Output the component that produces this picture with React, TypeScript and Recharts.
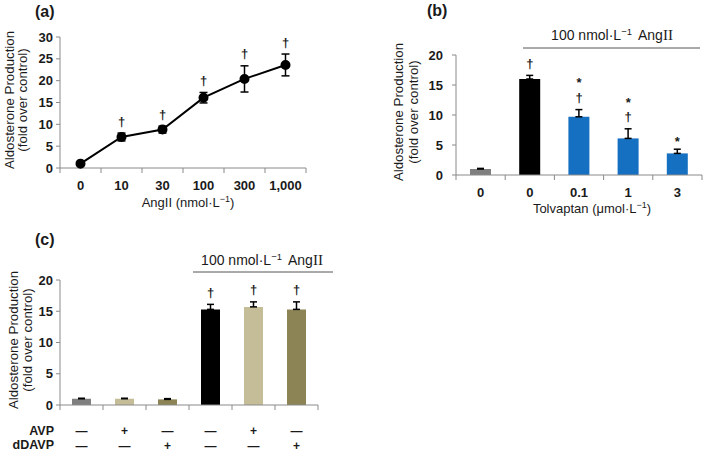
import React from 'react';
import { ComposedChart, Line, Bar, Cell, XAxis, YAxis, ErrorBar } from 'recharts';

const AXIS = '#8a8a8a';
const TEXT = '#1a1a1a';
const FONT = '"Liberation Sans", Arial, Helvetica, sans-serif';

// ---------- Panel (a) ----------
const aCats = ['0', '10', '30', '100', '300', '1,000'];
const aValues = [1.0, 7.1, 8.8, 16.1, 20.4, 23.6];
const aErrors = [0.2, 0.9, 0.8, 1.2, 3.0, 2.5];
const aMarks: string[][] = [[], ['†'], ['†'], ['†'], ['†'], ['†']];
const aYTicks = [0, 5, 10, 15, 20, 25, 30];

// ---------- Panel (b) ----------
const bKeys = ['Control', 'AngII', 'AngII+Tol0.1', 'AngII+Tol1', 'AngII+Tol3'];
const bCats = ['0', '0', '0.1', '1', '3'];
const bValues = [1.0, 16.0, 9.7, 6.1, 3.6];
const bErrors = [0.1, 0.6, 1.2, 1.6, 0.7];
const bMarks: string[][] = [[], ['†'], ['†', '*'], ['†', '*'], ['*']];
const bColors = ['#7f7f7f', '#000000', '#1570c2', '#1570c2', '#1570c2'];
const bYTicks = [0, 5, 10, 15, 20];

// ---------- Panel (c) ----------
const cKeys = ['Control', 'AVP', 'dDAVP', 'AngII', 'AngII+AVP', 'AngII+dDAVP'];
const cValues = [1.0, 1.0, 0.9, 15.3, 15.7, 15.3];
const cErrors = [0.08, 0.08, 0.12, 0.8, 0.8, 1.2];
const cMarks: string[][] = [[], [], [], ['†'], ['†'], ['†']];
const cColors = ['#7f7f7f', '#c4bd97', '#8c8454', '#000000', '#c4bd97', '#8c8454'];
const cRowNames = ['AVP', 'dDAVP'];
const cAvpRow = ['—', '+', '—', '—', '+', '—'];
const cDdavpRow = ['—', '—', '+', '—', '—', '+'];
const cYTicks = [0, 5, 10, 15, 20];

const aData = aCats.map((c, i) => ({
  x: i + 0.5,
  cat: c,
  value: aValues[i],
  err: aErrors[i],
  annoAt: aValues[i] + aErrors[i],
  marks: aMarks[i],
}));

const bData = bKeys.map((k, i) => ({
  key: k,
  value: bValues[i],
  errRange: [0, bErrors[i]],
  annoAt: bValues[i] + bErrors[i],
  marks: bMarks[i],
}));

const cData = cKeys.map((k, i) => ({
  key: k,
  value: cValues[i],
  errRange: [0, cErrors[i]],
  annoAt: cValues[i] + cErrors[i],
  marks: cMarks[i],
}));

type TickOpts = {
  n: number;
  labels?: string[];
  rows?: string[][];
  rowNames?: string[];
  fallbackWidth: number;
};

function makeXTick(opts: TickOpts) {
  return function XTick(props: any) {
    const { x, y, index } = props;
    const w = typeof props.width === 'number' && props.width > 0 ? props.width : opts.fallbackWidth;
    const band = w / opts.n;
    const left = x - band / 2;
    const right = x + band / 2;
    return (
      <g>
        <line x1={left} x2={left} y1={y} y2={y + 5} stroke={AXIS} strokeWidth={1} />
        {index === opts.n - 1 && <line x1={right} x2={right} y1={y} y2={y + 5} stroke={AXIS} strokeWidth={1} />}
        {opts.labels && (
          <text x={x} y={y + 21.5} textAnchor="middle" fontSize={13} fontWeight="bold" fill={TEXT}>
            {opts.labels[index]}
          </text>
        )}
        {opts.rows &&
          opts.rows.map((row, r) => (
            <text key={r} x={x} y={y + 29.5 + r * 15} textAnchor="middle" fontSize={12} fontWeight="bold" fill={TEXT}>
              {row[index]}
            </text>
          ))}
        {opts.rowNames &&
          index === 0 &&
          opts.rowNames.map((nm, r) => (
            <text key={'n' + r} x={left - 6} y={y + 29.5 + r * 14.5} textAnchor="end" fontSize={12.5} fontWeight="bold" fill={TEXT}>
              {nm}
            </text>
          ))}
      </g>
    );
  };
}

// Symbols stacked above the error bar top: first entry closest to the bar.
const renderMarks = (props: any) => {
  const { cx, cy, payload, index } = props;
  const marks: string[] = (payload && payload.marks) || [];
  return (
    <g key={'mk' + index}>
      {marks.map((m, k) => {
        let base: number;
        if (k === 0) base = m === '*' ? cy - 3.5 : cy - 7.5;
        else base = cy - 22.3 - 15 * (k - 1);
        return (
          <text key={k} x={cx} y={base} textAnchor="middle" fontSize={13} fontWeight="bold" fill={TEXT}>
            {m}
          </text>
        );
      })}
    </g>
  );
};

const yTickStyle = { fontSize: 13, fontWeight: 'bold' as const, fill: TEXT };

const YTitle = ({ x1, x2, cy }: { x1: number; x2: number; cy: number }) => (
  <g fontSize={13.3} fill={TEXT}>
    <text transform={`translate(${x1},${cy}) rotate(-90)`} textAnchor="middle">
      Aldosterone Production
    </text>
    <text transform={`translate(${x2},${cy}) rotate(-90)`} textAnchor="middle">
      (fold over control)
    </text>
  </g>
);

const Header = ({ cx, y, x1, x2, ly }: { cx: number; y: number; x1: number; x2: number; ly: number }) => (
  <g>
    <text x={cx} y={y} textAnchor="middle" fontSize={14} fill={TEXT}>
      100 nmol·L
      <tspan dy={-5} fontSize={9.5}>
        −1
      </tspan>
      <tspan dy={5} dx={6}>
        Ang
      </tspan>
      <tspan fontFamily='"Liberation Serif", "Times New Roman", serif' fontSize={15}>
        II
      </tspan>
    </text>
    <line x1={x1} x2={x2} y1={ly} y2={ly} stroke="#555" strokeWidth={1} />
  </g>
);

export default function App() {
  return (
    <div
      style={{
        position: 'absolute',
        left: 0,
        top: 0,
        width: 709,
        height: 452,
        background: '#ffffff',
        fontFamily: FONT,
        overflow: 'hidden',
      }}
    >
      {/* Panel (a) */}
      <div style={{ position: 'absolute', left: 0, top: 0 }}>
        <ComposedChart width={320} height={220} data={aData} margin={{ top: 37, right: 14, bottom: 22, left: 0 }}>
          <XAxis
            dataKey="x"
            type="number"
            domain={[0, aCats.length]}
            ticks={aData.map((d) => d.x)}
            interval={0}
            height={30}
            tickSize={0}
            tickMargin={0}
            tickLine={false}
            axisLine={{ stroke: AXIS }}
            tick={makeXTick({ n: aCats.length, labels: aCats, fallbackWidth: 246 })}
          />
          <YAxis
            domain={[0, 30]}
            ticks={aYTicks}
            interval={0}
            width={60}
            tickSize={4}
            tickMargin={3}
            tick={yTickStyle}
            axisLine={{ stroke: AXIS }}
            tickLine={{ stroke: AXIS }}
          />
          <Line dataKey="value" stroke="#000" strokeWidth={2} dot={{ r: 4, fill: '#000', stroke: '#000' }} activeDot={false} isAnimationActive={false}>
            <ErrorBar dataKey="err" width={4} stroke="#000" strokeWidth={1.5} direction="y" />
          </Line>
          <Line dataKey="annoAt" stroke="none" dot={renderMarks} activeDot={false} isAnimationActive={false} />
        </ComposedChart>
      </div>

      {/* Panel (b) */}
      <div style={{ position: 'absolute', left: 360, top: 0 }}>
        <ComposedChart width={349} height={220} data={bData} margin={{ top: 55, right: 7, bottom: 15, left: 0 }}>
          <XAxis
            dataKey="key"
            interval={0}
            height={30}
            tickSize={0}
            tickMargin={0}
            tickLine={false}
            axisLine={{ stroke: AXIS }}
            tick={makeXTick({ n: bCats.length, labels: bCats, fallbackWidth: 246 })}
          />
          <YAxis
            domain={[0, 20]}
            ticks={bYTicks}
            interval={0}
            width={96}
            tickSize={4}
            tickMargin={9}
            tick={yTickStyle}
            axisLine={{ stroke: AXIS }}
            tickLine={{ stroke: AXIS }}
          />
          <Bar dataKey="value" barSize={21} isAnimationActive={false}>
            {bData.map((d, i) => (
              <Cell key={i} fill={bColors[i]} />
            ))}
            <ErrorBar dataKey="errRange" width={3.5} stroke="#000" strokeWidth={1.5} direction="y" />
          </Bar>
          <Line dataKey="annoAt" stroke="none" dot={renderMarks} activeDot={false} isAnimationActive={false} />
        </ComposedChart>
      </div>

      {/* Panel (c) */}
      <div style={{ position: 'absolute', left: 0, top: 240 }}>
        <ComposedChart width={340} height={212} data={cData} margin={{ top: 40, right: 22, bottom: 17, left: 0 }}>
          <XAxis
            dataKey="key"
            interval={0}
            height={30}
            tickSize={0}
            tickMargin={0}
            tickLine={false}
            axisLine={{ stroke: AXIS }}
            tick={makeXTick({ n: cKeys.length, rows: [cAvpRow, cDdavpRow], rowNames: cRowNames, fallbackWidth: 258 })}
          />
          <YAxis
            domain={[0, 20]}
            ticks={cYTicks}
            interval={0}
            width={60}
            tickSize={4}
            tickMargin={3}
            tick={yTickStyle}
            axisLine={{ stroke: AXIS }}
            tickLine={{ stroke: AXIS }}
          />
          <Bar dataKey="value" barSize={19} isAnimationActive={false}>
            {cData.map((d, i) => (
              <Cell key={i} fill={cColors[i]} />
            ))}
            <ErrorBar dataKey="errRange" width={3.5} stroke="#000" strokeWidth={1.5} direction="y" />
          </Bar>
          <Line dataKey="annoAt" stroke="none" dot={renderMarks} activeDot={false} isAnimationActive={false} />
        </ComposedChart>
      </div>

      {/* Titles and annotations */}
      <svg
        width={709}
        height={452}
        style={{ position: 'absolute', left: 0, top: 0, pointerEvents: 'none' }}
        fontFamily={FONT}
      >
        <text x={35} y={17} fontSize={16} fontWeight="bold" fill={TEXT}>(a)</text>
        <text x={427} y={16} fontSize={16} fontWeight="bold" fill={TEXT}>(b)</text>
        <text x={35} y={245} fontSize={16} fontWeight="bold" fill={TEXT}>(c)</text>

        <YTitle x1={13.5} x2={26.5} cy={100} />
        <YTitle x1={402.5} x2={417.5} cy={112} />
        <YTitle x1={17.5} x2={32} cy={340} />

        <text x={188} y={207} textAnchor="middle" fontSize={13} fill={TEXT}>
          AngII (nmol·L
          <tspan dy={-5} fontSize={9}>−1</tspan>
          <tspan dy={5}>)</tspan>
        </text>
        <text x={592} y={213} textAnchor="middle" fontSize={13} fill={TEXT}>
          Tolvaptan (μmol·L
          <tspan dy={-5} fontSize={9}>−1</tspan>
          <tspan dy={5}>)</tspan>
        </text>

        <Header cx={612} y={40} x1={523} x2={700} ly={48} />
        <Header cx={262} y={265} x1={193} x2={333} ly={272} />
      </svg>
    </div>
  );
}
